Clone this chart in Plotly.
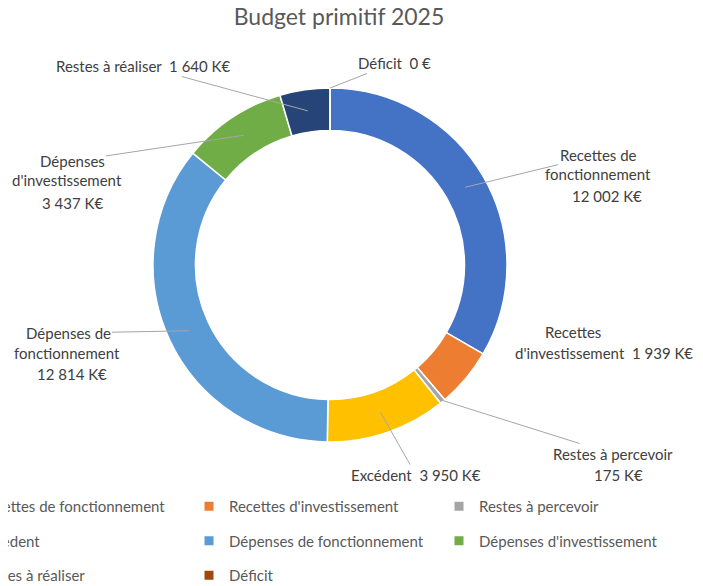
import math
import plotly.graph_objects as go

# ---------------- data ----------------
title_text = "Budget primitif 2025"
labels = ["Recettes de fonctionnement", "Recettes d'investissement", "Restes à percevoir",
          "Excédent", "Dépenses de fonctionnement", "Dépenses d'investissement",
          "Restes à réaliser", "Déficit"]
values = [12002, 1939, 175, 3950, 12814, 3437, 1640, 0]
colors = ["#4472C4", "#ED7D31", "#A5A5A5", "#FFC000", "#5B9BD5", "#70AD47", "#264478", "#9E480E"]

# how each data label is broken into lines ({v} = formatted value)
label_lines = [
    ["Recettes de", "fonctionnement", "{v}"],
    ["Recettes", "d'investissement\u00a0\u00a0{v}"],
    ["Restes à percevoir", "{v}"],
    ["Excédent\u00a0\u00a0{v}"],
    ["Dépenses de", "fonctionnement", "{v}"],
    ["Dépenses", "d'investissement", "{v}"],
    ["Restes à réaliser\u00a0\u00a0{v}"],
    ["Déficit\u00a0\u00a0{v}"],
]

# ---------------- layout / style ----------------
W, H = 703, 586
OFF = 8            # page offset of the figure inside the window
CX, CY, R = 330, 265, 177
HOLE = 0.76
FONT = "Lato"
LABEL_SIZE = 15

# centre of each text line (window pixels)
label_pos = [
    [(598, 155), (598, 174), (607, 196)],
    [(573, 332), (604, 353)],
    [(613, 454), (618, 475)],
    [(416, 475)],
    [(68, 333), (67, 353), (72, 374)],
    [(72, 161), (67, 180), (72, 203)],
    [(143, 66)],
    [(394, 63)],
]
# leader line: None = no line, else radius (fraction of outer radius) of the tip
leader_r = [0.88, None, 0.99, 0.88, 0.88, 0.88, 0.88, 1.0]


def px(X):
    return (X - OFF) / W


def py(Y):
    return 1 - (Y - OFF) / H


def fmt(v):
    if v == 0:
        return "0\u00a0€"
    return f"{v:,}".replace(",", "\u00a0") + "\u00a0K€"


fig = go.Figure()
fig.add_trace(go.Pie(
    labels=labels, values=values, sort=False, direction="clockwise", rotation=0,
    hole=HOLE, textinfo="none", showlegend=False,
    marker=dict(colors=colors, line=dict(color="white", width=1.5)),
    domain=dict(x=[px(CX - R), px(CX + R)], y=[py(CY + R), py(CY - R)]),
))

# annotations for data labels
total = sum(values)
annotations = []
cum = 0
for i, v in enumerate(values):
    theta = 2 * math.pi * (cum + v / 2) / total
    cum += v
    for j, (line, (lx, ly)) in enumerate(zip(label_lines[i], label_pos[i])):
        text = line.replace("{v}", fmt(v))
        common = dict(text=text, xref="paper", yref="paper",
                      font=dict(family=FONT, size=LABEL_SIZE, color="#404040"))
        if j == 0 and leader_r[i] is not None:
            rr = R * leader_r[i]
            tx = CX + rr * math.sin(theta)
            ty = CY - rr * math.cos(theta)
            annotations.append(dict(
                x=px(tx), y=py(ty), ax=lx - tx, ay=ly - ty, axref="pixel", ayref="pixel",
                showarrow=True, arrowhead=0, arrowwidth=1, arrowcolor="#A6A6A6",
                standoff=0, startstandoff=0, **common))
        else:
            annotations.append(dict(x=px(lx), y=py(ly), showarrow=False,
                                    xanchor="center", yanchor="middle", **common))

# legend entries (three columns)
legend_names = ["legend", "legend2", "legend3"]
for i, (lab, col) in enumerate(zip(labels, colors)):
    fig.add_trace(go.Scatter(
        x=[None], y=[None], mode="markers", name=lab, legendgroup=lab,
        legend=legend_names[i % 3], hoverinfo="skip",
        marker=dict(symbol="square", size=9, color=col),
    ))

col_text_x = [-21, 229, 479]
legend_top = 490
legend_style = {}
for k, name in enumerate(legend_names):
    legend_style[name] = dict(
        orientation="v", x=px(col_text_x[k] - 40), xanchor="left",
        y=py(legend_top), yanchor="top", traceorder="grouped", tracegroupgap=12,
        font=dict(family=FONT, size=LABEL_SIZE, color="#595959"), bgcolor="rgba(0,0,0,0)",
    )

fig.update_layout(
    width=W, height=H,
    margin=dict(l=0, r=0, t=0, b=0, autoexpand=False),
    paper_bgcolor="white", plot_bgcolor="white",
    title=dict(text=title_text, x=px(339), xanchor="center", y=py(17), yanchor="middle",
               font=dict(family=FONT, size=23, color="#595959")),
    xaxis=dict(visible=False), yaxis=dict(visible=False),
    annotations=annotations,
    **legend_style,
)

fig.write_html("out.html")
